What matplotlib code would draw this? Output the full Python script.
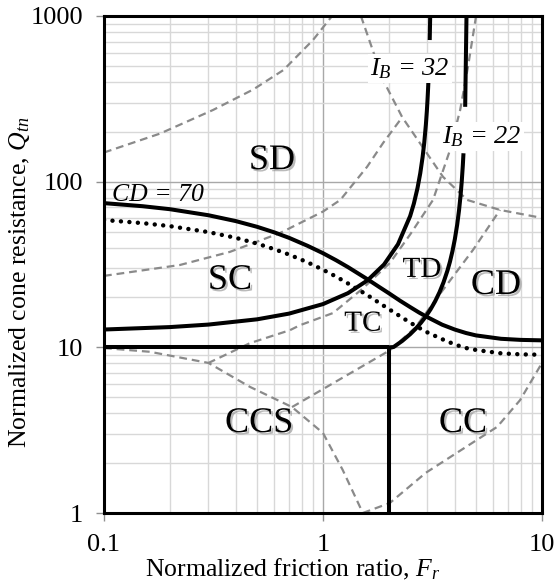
import matplotlib
matplotlib.use('Agg')
import matplotlib.pyplot as plt
import matplotlib.patheffects as pe
from matplotlib.ticker import LogLocator, NullFormatter

plt.rcParams['font.family'] = ['Liberation Serif', 'DejaVu Serif']
plt.rcParams['mathtext.fontset'] = 'custom'
plt.rcParams['mathtext.it'] = 'Liberation Serif:italic'
plt.rcParams['mathtext.rm'] = 'Liberation Serif'
plt.rcParams['mathtext.bf'] = 'Liberation Serif:bold'

# ---------------- data ----------------
x_ticks = [0.1, 1, 10]
x_tick_labels = ['0.1', '1', '10']
y_ticks = [1, 10, 100, 1000]
y_tick_labels = ['1', '10', '100', '1000']

# CD = 70 boundary
cd_fr = [0.1, 0.15, 0.2, 0.3, 0.4, 0.5, 0.6, 0.7, 0.85, 1.0, 1.15, 1.3, 1.6, 1.8, 2.0, 2.25,
         2.5, 2.75, 3.0, 3.5, 4.0, 4.5, 5.0, 6.5, 8.0, 10]
cd_q = [74.2, 71.1, 68.2, 62.7, 57.8, 53.4, 49.4, 45.8, 41.0, 37.0, 33.5, 30.5, 25.7, 23.2, 21.2,
        19.1, 17.5, 16.2, 15.2, 13.7, 12.8, 12.2, 11.8, 11.26, 11.09, 11.02]

# dotted boundary
dot_fr = [0.1, 0.15, 0.2, 0.3, 0.4, 0.5, 0.6, 0.7, 0.85, 1.0, 1.15, 1.3, 1.6, 1.8, 2.0, 2.25,
          2.5, 2.75, 3.0, 3.5, 4.0, 4.5, 5.0, 6.5, 8.0, 10]
dot_q = [58.7, 56.2, 53.9, 49.6, 45.8, 42.3, 39.1, 36.3, 32.6, 29.4, 26.7, 24.3, 20.6, 18.6, 17.0,
         15.4, 14.1, 13.1, 12.3, 11.2, 10.4, 9.9, 9.64, 9.2, 9.07, 9.02]

# IB = 32 (lower and upper pieces, gap for the label)
ib32_fr_lo = [0.1, 0.2, 0.3, 0.5, 0.7, 1.0, 1.3, 1.6, 1.9, 2.2, 2.5, 2.6, 2.7, 2.78, 2.85, 2.9,
              2.95, 2.98, 3.0, 3.01, 3.02, 3.025, 3.0325]
ib32_q_lo = [12.81, 13.25, 13.72, 14.76, 15.98, 18.24, 21.23, 25.41, 31.63, 41.89, 62.0, 73.8,
             91.2, 112.3, 140.9, 172.2, 221.4, 267, 310, 337, 369, 387.5, 419]
ib32_fr_hi = [3.0709, 3.08625]
ib32_q_hi = [716, 1000]

# IB = 22 (lower and upper pieces, gap for the label)
ib22_fr_lo = [2.0, 2.1, 2.3, 2.5, 2.65, 2.8, 2.95, 3.1, 3.25, 3.4, 3.55, 3.7, 3.8, 3.9, 4.0,
              4.1, 4.18, 4.25, 4.3, 4.35, 4.38]
ib22_q_lo = [10.0, 10.04, 10.93, 12.0, 12.95, 14.06, 15.38, 16.98, 18.95, 21.43, 24.66, 29.03,
             32.9, 38.03, 45.0, 55.1, 67.2, 83.1, 100, 125.6, 148.4]
ib22_fr_hi = [4.4587, 4.5209]
ib22_q_hi = [283, 1000]

# straight boundaries of CCS / CC
hline_fr = [0.1, 2.0]
hline_q = [10, 10]
vline_fr = [2.0, 2.0]
vline_q = [1, 10]

# grey dashed background zone boundaries
dA_fr = [0.1, 0.18, 0.315, 0.48, 0.66, 0.9, 1.1]
dA_q = [150, 195, 271, 360, 472, 716, 1000]
dB_fr = [1.49, 1.88, 2.3, 2.77, 3.53, 4.55, 6.43, 10]
dB_q = [1000, 411, 245, 171, 107, 77.6, 67.5, 60.4]
dC_fr = [0.1, 0.222, 0.376, 0.637, 1.0, 1.2, 1.59, 1.88, 2.3]
dC_q = [27, 31.4, 37.7, 49, 66, 77.6, 123, 171, 245]
dD_fr = [5.0, 4.59, 4.23, 3.80, 3.18, 2.5, 2.02, 1.51, 1.11, 0.785, 0.707, 0.464, 0.30]
dD_q = [1000, 492, 271, 155, 77.6, 48, 32.3, 22.5, 16.1, 13.6, 12.7, 10.6, 8.05]
dE_fr = [0.722, 2.02, 2.63, 3.53, 4.84, 6.43]
dE_q = [4.36, 9.6, 13.1, 22.2, 38.7, 67.5]
dG_fr = [0.1, 0.162, 0.30, 0.464, 0.722, 1.0, 1.23, 1.52]
dG_q = [9.9, 9.4, 8.05, 5.77, 4.36, 3.04, 1.82, 1.0]
dH_fr = [1.52, 2.02, 2.95, 6.24, 7.94, 10]
dH_q = [1.0, 1.15, 1.75, 3.31, 4.8, 8.05]

zone_labels = ['SD', 'SC', 'TD', 'TC', 'CD', 'CCS', 'CC']
zone_fr = [0.585, 0.376, 2.83, 1.52, 6.17, 0.511, 4.36]
zone_q = [119, 22.5, 26.6, 12.6, 21.0, 3.08, 3.08]
zone_size = [26, 26, 21, 21, 26, 26, 26]

# ---------------- figure ----------------
fig = plt.figure(figsize=(5.57, 5.84), dpi=100)
ax = fig.add_axes([104 / 557, 1 - 513 / 584, 438 / 557, 497 / 584])
ax.set_xscale('log')
ax.set_yscale('log')
ax.set_xlim(0.1, 10)
ax.set_ylim(1, 1000)

ax.xaxis.set_minor_locator(LogLocator(base=10, subs=range(2, 10)))
ax.yaxis.set_minor_locator(LogLocator(base=10, subs=range(2, 10)))
ax.xaxis.set_minor_formatter(NullFormatter())
ax.yaxis.set_minor_formatter(NullFormatter())
ax.grid(which='minor', color='#d8d8d8', lw=1.0, zorder=0)
ax.grid(which='major', color='#a8a8a8', lw=1.0, zorder=0)
ax.set_axisbelow(True)

ax.set_xticks(x_ticks)
ax.set_xticklabels(x_tick_labels)
ax.set_yticks(y_ticks)
ax.set_yticklabels(y_tick_labels)
ax.tick_params(which='major', length=6, width=1, color='#909090', pad=9, labelsize=19)
ax.tick_params(which='minor', length=0)
for s in ax.spines.values():
    s.set_linewidth(2.2)
    s.set_color('black')
    s.set_zorder(10)

dash_kw = dict(color='#8a8a8a', lw=1.6, linestyle=(0, (3.5, 2.2)), zorder=2)
for fr, q in [(dA_fr, dA_q), (dB_fr, dB_q), (dC_fr, dC_q), (dD_fr, dD_q),
              (dE_fr, dE_q), (dG_fr, dG_q), (dH_fr, dH_q)]:
    ax.plot(fr, q, **dash_kw)

solid_kw = dict(color='black', lw=2.9, solid_capstyle='butt', solid_joinstyle='round', zorder=4)
ax.plot(cd_fr, cd_q, **solid_kw)
ax.plot(ib32_fr_lo, ib32_q_lo, **solid_kw)
ax.plot(ib32_fr_hi, ib32_q_hi, **solid_kw)
ax.plot(ib22_fr_lo, ib22_q_lo, **solid_kw)
ax.plot(ib22_fr_hi, ib22_q_hi, **solid_kw)
ax.plot(hline_fr, hline_q, **solid_kw)
ax.plot(vline_fr, vline_q, **solid_kw)
ax.plot(dot_fr, dot_q, color='black', lw=3.2, linestyle=(0, (0.01, 1.9)),
        dash_capstyle='round', zorder=4)

shadow = [pe.withSimplePatchShadow(offset=(1.5, -1.5), shadow_rgbFace='0.55', alpha=0.6)]
for lab, fx, qy, sz in zip(zone_labels, zone_fr, zone_q, zone_size):
    ax.text(fx, qy, lab, fontsize=sz, ha='center', va='baseline', zorder=6,
            path_effects=shadow)

ax.text(0.177, 76.6, 'CD = 70', fontsize=18.5, style='italic', ha='center',
        va='baseline', zorder=6)
bbox = dict(facecolor='white', edgecolor='none', pad=1.5)
ax.text(2.50, 482, r'$I_B$ = 32', fontsize=19, style='italic', ha='center',
        va='center', zorder=6, bbox=bbox)
ax.text(5.32, 187.6, r'$I_B$ = 22', fontsize=19, style='italic', ha='center',
        va='center', zorder=6, bbox=bbox)

fig.text(293 / 557, 1 - 569 / 584, r'Normalized friction ratio, $F_r$', fontsize=18.5,
         ha='center', va='center')
fig.text(20 / 557, 1 - 282 / 584, r'Normalized cone resistance, $Q_{tn}$', fontsize=18.5,
         ha='center', va='center', rotation=90)

fig.savefig('out.png', dpi=100)
